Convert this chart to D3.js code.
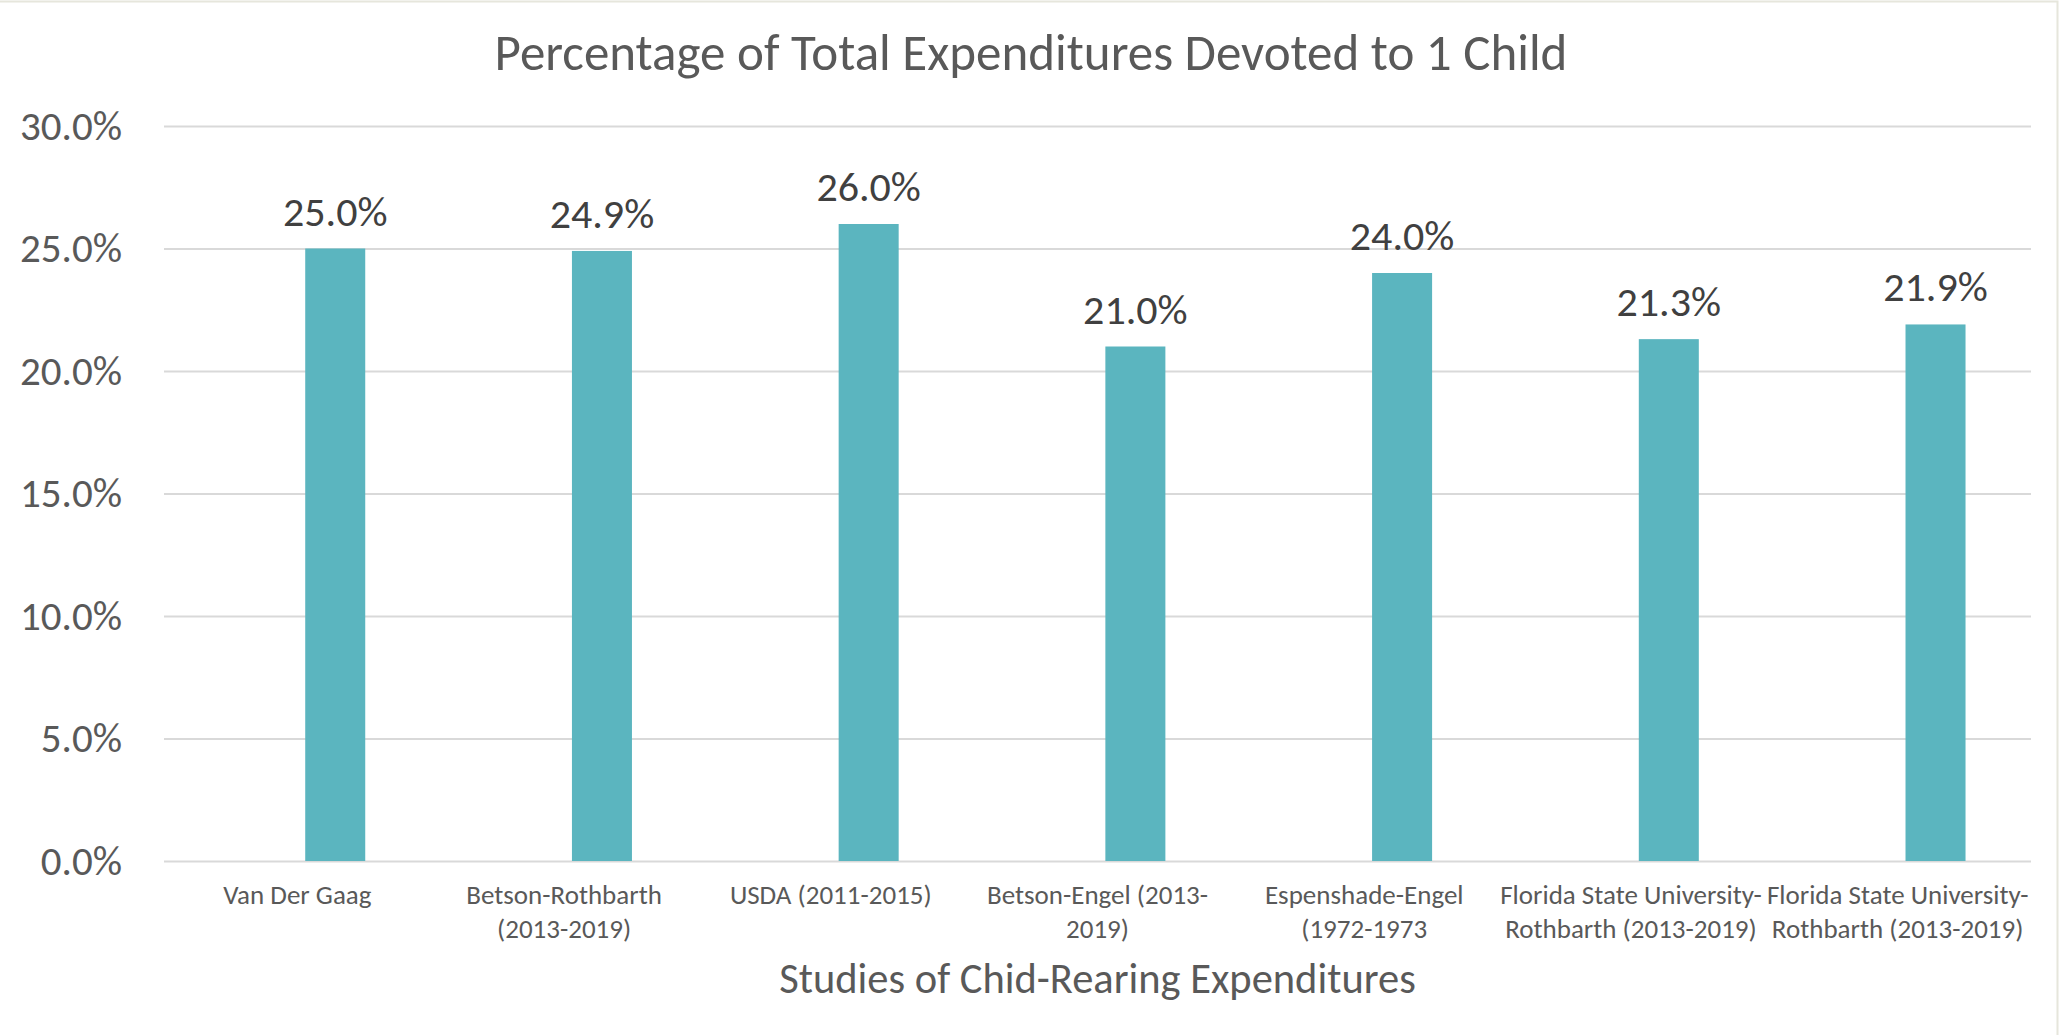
<!DOCTYPE html>
<meta charset="utf-8">
<script src="https://d3js.org/d3.v7.min.js"></script>
<style>
  body { margin: 0; background: #fff; }
  text { font-family: Carlito, Calibri, Lato, sans-serif; }
</style>
<div id="chart"></div>
<script>
// data
var categories = ["Van Der Gaag", "Betson-Rothbarth (2013-2019)", "USDA (2011-2015)",
  "Betson-Engel (2013-2019)", "Espenshade-Engel (1972-1973",
  "Florida State University-Rothbarth (2013-2019)", "Florida State University-Rothbarth (2013-2019)"];
var labelLines = [
  ["Van Der Gaag"],
  ["Betson-Rothbarth", "(2013-2019)"],
  ["USDA (2011-2015)"],
  ["Betson-Engel (2013-", "2019)"],
  ["Espenshade-Engel", "(1972-1973"],
  ["Florida State University-", "Rothbarth (2013-2019)"],
  ["Florida State University-", "Rothbarth (2013-2019)"]
];
var values = [0.250, 0.249, 0.260, 0.210, 0.240, 0.213, 0.219];
var yTicks = [0, 0.05, 0.10, 0.15, 0.20, 0.25, 0.30];

var W = 2062, H = 1035;
var margin = {top: 126, right: 31, bottom: 174, left: 164},
    width = W - margin.left - margin.right,
    height = H - margin.top - margin.bottom;

var root = d3.select("#chart").append("svg")
    .attr("width", W)
    .attr("height", H);

// faint chart border (top and right only show)
root.append("path")
    .attr("d", "M0,1.5H" + (W - 4.5) + "V" + H)
    .attr("fill", "none")
    .attr("stroke", "#e6e6dc")
    .attr("stroke-width", 2);

var svg = root.append("g")
    .attr("transform", "translate(" + margin.left + "," + margin.top + ")");

var x = d3.scaleBand()
    .domain(d3.range(categories.length))
    .range([0, width]);

var y = d3.scaleLinear()
    .domain([0, 0.30])
    .range([height, 0]);

var barW = x.bandwidth() * 0.225;
var barShift = x.bandwidth() * 0.142;

// y axis + gridlines
var yAxis = svg.append("g")
    .call(d3.axisLeft(y).tickValues(yTicks).tickFormat(d3.format(".1%"))
      .tickSize(-width).tickPadding(42));
yAxis.select(".domain").remove();
yAxis.selectAll("line").attr("stroke", "#d9d9d9").attr("stroke-width", 2);
yAxis.selectAll("text")
    .attr("fill", "#595959")
    .style("font-size", "41px")
    .style("font-family", "Carlito, Calibri, Lato, sans-serif");

// bars
svg.selectAll(".bar")
    .data(values)
    .enter().append("rect")
    .attr("class", "bar")
    .attr("x", function(d, i) { return x(i) + x.bandwidth() / 2 + barShift - barW / 2; })
    .attr("y", function(d) { return y(d); })
    .attr("width", barW)
    .attr("height", function(d) { return height - y(d); })
    .attr("fill", "#5bb5bf");

// value labels
svg.selectAll(".val")
    .data(values)
    .enter().append("text")
    .attr("class", "val")
    .attr("x", function(d, i) { return x(i) + x.bandwidth() / 2 + barShift; })
    .attr("y", function(d) { return y(d) - 23; })
    .attr("text-anchor", "middle")
    .attr("fill", "#404040")
    .style("font-size", "42px")
    .text(function(d) { return d3.format(".1%")(d); });

// category labels
var cat = svg.selectAll(".cat")
    .data(labelLines)
    .enter().append("text")
    .attr("class", "cat")
    .attr("text-anchor", "middle")
    .attr("fill", "#595959")
    .style("font-size", "27px")
    .attr("transform", function(d, i) { return "translate(" + (x(i) + x.bandwidth() / 2) + "," + (height + 43) + ")"; });
cat.selectAll("tspan")
    .data(function(d) { return d; })
    .enter().append("tspan")
    .attr("x", 0)
    .attr("y", function(d, j) { return j * 34; })
    .text(function(d) { return d; });

// titles
root.append("text")
    .attr("x", W / 2)
    .attr("y", 70)
    .attr("text-anchor", "middle")
    .attr("fill", "#595959")
    .style("font-size", "51px")
    .text("Percentage of Total Expenditures Devoted to 1 Child");

svg.append("text")
    .attr("x", width / 2)
    .attr("y", height + 132)
    .attr("text-anchor", "middle")
    .attr("fill", "#595959")
    .style("font-size", "42.5px")
    .text("Studies of Chid-Rearing Expenditures");
</script>
